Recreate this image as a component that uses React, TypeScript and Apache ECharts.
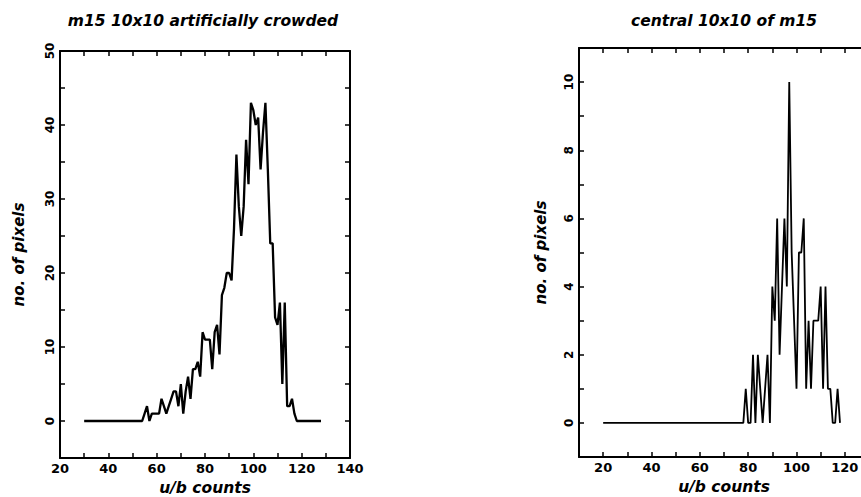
import React, { useEffect, useRef } from "react";
import * as echarts from "echarts";

// Left panel: m15 10x10 artificially crowded
const leftX: number[] = [];
for (let v = 30; v <= 128; v++) leftX.push(v);
const leftYNonZero: Record<number, number> = {
  55: 1, 56: 2, 57: 0, 58: 1, 59: 1, 60: 1, 61: 1, 62: 3, 63: 2, 64: 1, 65: 2, 66: 3,
  67: 4, 68: 4, 69: 2, 70: 5, 71: 1, 72: 4, 73: 6, 74: 3, 75: 7, 76: 7, 77: 8, 78: 6,
  79: 12, 80: 11, 81: 11, 82: 11, 83: 7, 84: 12, 85: 13, 86: 9, 87: 17, 88: 18, 89: 20,
  90: 20, 91: 19, 92: 26, 93: 36, 94: 29, 95: 25, 96: 29, 97: 38, 98: 32, 99: 43,
  100: 42, 101: 40, 102: 41, 103: 34, 104: 39, 105: 43, 106: 34, 107: 24, 108: 24,
  109: 14, 110: 13, 111: 16, 112: 5, 113: 16, 114: 2, 115: 2, 116: 3, 117: 1, 118: 0,
};

// Right panel: central 10x10 of m15
const rightX: number[] = [];
for (let v = 20; v <= 118; v++) rightX.push(v);
const rightYNonZero: Record<number, number> = {
  79: 1, 80: 0, 81: 0, 82: 2, 83: 0, 84: 2, 85: 1, 86: 0, 87: 1, 88: 2, 89: 0, 90: 4,
  91: 3, 92: 6, 93: 2, 94: 4, 95: 6, 96: 4, 97: 10, 98: 5, 99: 3, 100: 1, 101: 5,
  102: 5, 103: 6, 104: 1, 105: 3, 106: 1, 107: 3, 108: 3, 109: 3, 110: 4, 111: 1,
  112: 4, 113: 1, 114: 1, 115: 0, 116: 0, 117: 1, 118: 0,
};

const leftTitle = "m15 10x10 artificially crowded";
const rightTitle = "central 10x10 of m15";
const xName = "u/b counts";
const yName = "no. of pixels";

const FONT = "DejaVu Sans";

export default function App() {
  const ref = useRef<HTMLDivElement>(null);
  useEffect(() => {
    if (!ref.current) return;
    const chart = echarts.init(ref.current, undefined, { renderer: "svg" });
    const leftData = leftX.map((x) => [x, leftYNonZero[x] ?? 0]);
    const rightData = rightX.map((x) => [x, rightYNonZero[x] ?? 0]);

    const tickInside = { show: true, inside: true, length: 5, lineStyle: { color: "#000", width: 1.5 } };
    const axisLine = { show: true, onZero: false, lineStyle: { color: "#000", width: 2 } };
    const labelStyle = { color: "#000", fontFamily: FONT, fontWeight: "bold" as const };
    const nameStyle = { color: "#000", fontFamily: FONT, fontWeight: "bold" as const, fontStyle: "italic" as const };

    const xBase = (grid: number, min: number, max: number, pos: "bottom" | "top") => ({
      type: "value",
      gridIndex: grid,
      position: pos,
      min,
      max,
      interval: 10,
      axisLine,
      axisTick: tickInside,
      splitLine: { show: false },
      axisLabel:
        pos === "bottom"
          ? {
              ...labelStyle,
              fontSize: 13,
              margin: 4,
              formatter: (v: number) => (v % 20 === 0 && v >= 20 ? String(v) : ""),
            }
          : { show: false },
      ...(pos === "bottom"
        ? { name: xName, nameLocation: "middle", nameGap: 21, nameTextStyle: { ...nameStyle, fontSize: 15.5 } }
        : {}),
    });

    const yBase = (grid: number, min: number, max: number, interval: number, labelEvery: number, pos: "left" | "right", gap: number) => ({
      type: "value",
      gridIndex: grid,
      position: pos,
      min,
      max,
      interval,
      axisLine,
      axisTick: tickInside,
      splitLine: { show: false },
      axisLabel:
        pos === "left"
          ? {
              ...labelStyle,
              fontSize: 12,
              rotate: 90,
              margin: 4,
              formatter: (v: number) => (v % labelEvery === 0 && v >= 0 ? String(v) : ""),
            }
          : { show: false },
      ...(pos === "left"
        ? { name: yName, nameLocation: "middle", nameGap: gap, nameTextStyle: { ...nameStyle, fontSize: 15 } }
        : {}),
    });

    chart.setOption({
      animation: false,
      backgroundColor: "#fff",
      grid: [
        { left: 60, top: 51, width: 290, height: 407, outerBoundsMode: "none", containLabel: false },
        { left: 579, top: 48, width: 290, height: 409, outerBoundsMode: "none", containLabel: false },
      ],
      xAxis: [
        xBase(0, 20, 140, "bottom"),
        xBase(0, 20, 140, "top"),
        xBase(1, 10, 130, "bottom"),
        xBase(1, 10, 130, "top"),
      ],
      yAxis: [
        yBase(0, -5, 50, 5, 10, "left", 34),
        yBase(0, -5, 50, 5, 10, "right", 0),
        yBase(1, -1, 11, 1, 2, "left", 31),
        yBase(1, -1, 11, 1, 2, "right", 0),
      ],
      graphic: [
        {
          type: "text",
          x: 203,
          y: 21,
          style: { text: leftTitle, fill: "#000", font: `italic bold 15.5px "${FONT}"`, textAlign: "center", textVerticalAlign: "middle" },
        },
        {
          type: "text",
          x: 724,
          y: 21,
          style: { text: rightTitle, fill: "#000", font: `italic bold 15.5px "${FONT}"`, textAlign: "center", textVerticalAlign: "middle" },
        },
      ],
      series: [
        {
          type: "line",
          xAxisIndex: 0,
          yAxisIndex: 0,
          data: leftData,
          showSymbol: false,
          lineStyle: { color: "#000", width: 2.3 },
          clip: false,
        },
        {
          type: "line",
          xAxisIndex: 2,
          yAxisIndex: 2,
          data: rightData,
          showSymbol: false,
          lineStyle: { color: "#000", width: 1.8 },
          clip: false,
        },
      ],
    });
    return () => chart.dispose();
  }, []);
  return <div ref={ref} style={{ width: 861, height: 497, position: "absolute", left: 0, top: 0 }} />;
}
